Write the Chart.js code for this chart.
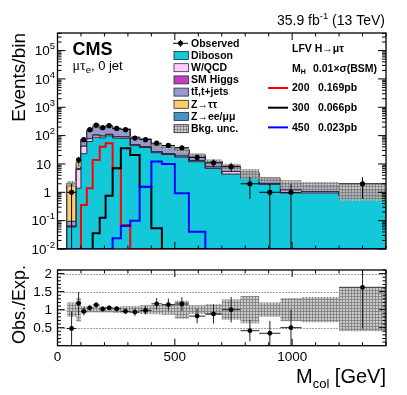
<!DOCTYPE html>
<html>
<head>
<meta charset="utf-8">
<title>LFV H to mu tau_e, 0 jet</title>
<script src="https://cdn.jsdelivr.net/npm/chart.js@4.4.1/dist/chart.umd.min.js"></script>
<style>
  body { margin: 0; background: #fff; }
  .panel { position: absolute; left: 0; }
</style>
</head>
<body>
<canvas id="mainChart" class="panel" width="407" height="260" style="top:0"></canvas>
<canvas id="ratioChart" class="panel" width="407" height="135" style="top:260px"></canvas>
<script>
// Collinear mass bins (GeV) and event counts per bin
const binEdges = [40, 80, 100, 125, 150, 180, 205, 235, 270, 310, 350, 400, 445, 500, 560, 630, 700, 780, 860, 950, 1040, 1200, 1400];
const observed = [1, 14, 72, 162, 235, 191, 224, 180, 162, 82, 72, 54, 45, 37, 17, 11, 8, 2, 1, 1, 0, 2];
const diboson = [0.06, 1.4, 23, 62, 88, 83, 98, 82, 81, 44, 38, 25, 21.5, 17.5, 12, 7, 4.4, 3.1, 1.9, 0.95, 0.95, 0.75];
const wqcd = [0, 5.0, 19, 16, 16, 13, 12.5, 9.5, 8.5, 4, 3, 2, 1.6, 1.5, 1.2, 0.8, 1.0, 0.3, 0.15, 0.25, 0.1, 0.02];
const smHiggs = [0.005, 0.1, 0.5, 1, 1.5, 1.5, 1.5, 1.2, 1, 0.6, 0.4, 0.3, 0.2, 0.2, 0.1, 0.05, 0.03, 0.02, 0.01, 0.01, 0.01, 0.005];
const ttbar = [0.03, 0.5, 23, 64, 91, 81, 95, 78, 75.5, 37, 30.5, 18, 15, 12, 7, 4.4, 2.5, 1.3, 0.8, 0.75, 0.62, 0.45];
const ztautau = [1.6, 4.0, 6, 6, 6, 4, 3, 2.8, 2, 1.2, 0.8, 0.6, 0.6, 0.4, 0.2, 0.1, 0.04, 0.04, 0.02, 0.02, 0.01, 0.005];
const zll = [0.4, 0.9, 4.3, 5, 5.5, 4.5, 3, 2.5, 2, 1.2, 0.8, 0.6, 0.6, 0.4, 0.2, 0.15, 0.03, 0.04, 0.02, 0.02, 0.01, 0.005];
const bkgUnc = [0.2, 0.33, 0.1, 0.08, 0.08, 0.08, 0.08, 0.09, 0.1, 0.1, 0.12, 0.13, 0.14, 0.25, 0.12, 0.15, 0.28, 0.38, 0.2, 0.32, 0.35, 0.6];

// signal hypotheses M_H = 200, 300, 450 GeV
const sig200 = [0, 0, 0.36, 1.39, 13.8, 40.8, 53.8, 7.1, 0.07, 0, 0, 0, 0, 0, 0, 0, 0, 0, 0, 0, 0, 0];
const sig300 = [0, 0, 0, 0, 0.036, 0.127, 0.76, 7.1, 35.9, 20.8, 1.58, 0.054, 0, 0, 0, 0, 0, 0, 0, 0, 0, 0];
const sig450 = [0, 0, 0, 0, 0, 0, 0, 0.024, 0.065, 0.1, 1.54, 12.1, 10, 0.92, 0.041, 0, 0, 0, 0, 0, 0, 0];
const signalMasses = ["200", "300", "450"];
const signalXsec = ["0.169pb", "0.066pb", "0.023pb"];

// axis ticks
const xTickValues = [0, 500, 1000];
const yTickValues = [0.01, 0.1, 1, 10, 100, 1000, 10000, 100000];
const yTickLabels = ["10^-2", "10^-1", "1", "10", "10^2", "10^3", "10^4", "10^5"];
const ratioTickValues = [0.5, 1, 1.5, 2];
const ratioTickLabels = ["0.5", "1", "1.5", "2"];

const legendLabels = ["Observed", "Diboson", "W/QCD", "SM Higgs", "tt\u0304,t+jets", "Z\u2192\u03c4\u03c4", "Z\u2192ee/\u03bc\u03bc", "Bkg. unc."];
const legendColors = [null, "#13c8d8", "#ffccff", "#c040c0", "#9999cc", "#ffcc66", "#4596c8", "hatch"];
const signalColors = ["#ff0000", "#000000", "#0000ff"];

const SANS = '"Liberation Sans", Arial, Helvetica, sans-serif';
const SERIF = '"Liberation Serif", "DejaVu Serif", serif';
const yMin = 0.01;
const yMax = Math.pow(10, 5.62);
const xMax = 1400;

// cumulative stack, bottom to top
const layers = [diboson, wqcd, smHiggs, ttbar, ztautau, zll];
const cum = [];
let running = diboson.map(() => 0);
layers.forEach((l) => {
  running = running.map((s, i) => s + l[i]);
  cum.push(running);
});
const total = cum[cum.length - 1];

function histPoints(vals, floor, x0) {
  const pts = [];
  if (x0 !== undefined) pts.push({ x: x0, y: floor });
  pts.push({ x: binEdges[0], y: floor });
  vals.forEach((v, i) => {
    const y = Math.max(v, yMin);
    pts.push({ x: binEdges[i], y: y });
    pts.push({ x: binEdges[i + 1], y: y });
  });
  pts.push({ x: binEdges[binEdges.length - 1], y: floor });
  return pts;
}

function centers() {
  return binEdges.slice(0, -1).map((e, i) => (e + binEdges[i + 1]) / 2);
}

function makeHatch(canvas) {
  const c = document.createElement("canvas");
  c.width = 3;
  c.height = 3;
  const g = c.getContext("2d");
  g.fillStyle = "rgba(188,188,188,0.78)";
  g.fillRect(0, 0, 3, 3);
  g.fillStyle = "rgba(125,125,125,0.8)";
  g.fillRect(0, 0, 1, 3);
  g.fillRect(0, 0, 3, 1);
  return canvas.getContext("2d").createPattern(c, "repeat");
}

function font(size, bold) {
  return (bold ? "bold " : "") + size + "px " + SANS;
}

// draw runs of text [{t, size, bold, dy, fam}] in a row
function textRuns(ctx, parts, x, y, align) {
  let w = 0;
  parts.forEach((p) => {
    ctx.font = (p.bold ? "bold " : "") + p.size + "px " + (p.fam || SANS);
    p.w = ctx.measureText(p.t).width;
    w += p.w;
  });
  let cx = align === "right" ? x - w : align === "center" ? x - w / 2 : x;
  ctx.textAlign = "left";
  parts.forEach((p) => {
    ctx.font = (p.bold ? "bold " : "") + p.size + "px " + (p.fam || SANS);
    ctx.fillText(p.t, cx, y + (p.dy || 0));
    cx += p.w;
  });
}

function line(ctx, x1, y1, x2, y2) {
  ctx.beginPath();
  ctx.moveTo(x1, y1);
  ctx.lineTo(x2, y2);
  ctx.stroke();
}

function xTicks(ctx, xs, area) {
  for (let v = 0; v <= xMax; v += 100) {
    const px = xs.getPixelForValue(v);
    const len = v % 500 === 0 ? 7 : 3.5;
    line(ctx, px, area.bottom, px, area.bottom - len);
    line(ctx, px, area.top, px, area.top + len);
  }
}

function verticalTitle(ctx, s, x, yTop, size) {
  ctx.save();
  ctx.translate(x, yTop);
  ctx.rotate(-Math.PI / 2);
  ctx.font = font(size);
  ctx.textAlign = "right";
  ctx.textBaseline = "alphabetic";
  ctx.fillStyle = "#000";
  ctx.fillText(s, 0, 0);
  ctx.restore();
}

// ---------------- main panel ----------------
const mainCanvas = document.getElementById("mainChart");
const hatchMain = makeHatch(mainCanvas);

// biggest cumulative drawn first (highest order), smaller ones on top
const stackNames = ["Diboson", "W/QCD", "SM Higgs", "ttbar", "Ztautau", "Zll"];
const stackDatasets = [];
for (let k = layers.length - 1; k >= 0; k--) {
  stackDatasets.push({
    label: stackNames[k],
    data: histPoints(cum[k], yMin),
    backgroundColor: legendColors[k + 1],
    borderColor: "#2a2a3a",
    borderWidth: 1,
    fill: "start",
    pointRadius: 0,
    order: 10 + k,
  });
}

const bandLow = total.map((t, i) => t * (1 - bkgUnc[i]));
const bandHigh = total.map((t, i) => t * (1 + bkgUnc[i]));
const obsPoints = centers()
  .map((c, i) => ({ x: c, y: observed[i] }))
  .filter((p) => p.y > 0);

const mainDatasets = stackDatasets.concat([
  { label: "bandLow", data: histPoints(bandLow, yMin), borderWidth: 0, pointRadius: 0, fill: false, order: 5 },
  { label: "Bkg. unc.", data: histPoints(bandHigh, yMin), borderWidth: 0, pointRadius: 0, fill: "-1", backgroundColor: hatchMain, order: 4 },
  { label: "200", data: histPoints(sig200, yMin, 0), borderColor: signalColors[0], borderWidth: 2, pointRadius: 0, fill: false, order: 3 },
  { label: "300", data: histPoints(sig300, yMin, 0), borderColor: signalColors[1], borderWidth: 2, pointRadius: 0, fill: false, order: 2 },
  { label: "450", data: histPoints(sig450, yMin, 0), borderColor: signalColors[2], borderWidth: 2, pointRadius: 0, fill: false, order: 1 },
  { label: "Observed", data: obsPoints, showLine: false, pointRadius: 2.6, pointBackgroundColor: "#000", pointBorderWidth: 0, order: 0 },
]);
const OBS_INDEX = mainDatasets.length - 1;

const mainDecor = {
  id: "mainDecor",
  beforeDatasetDraw(chart, args) {
    if (args.index !== OBS_INDEX) return;
    const ctx = chart.ctx, xs = chart.scales.x, ys = chart.scales.y;
    ctx.save();
    ctx.strokeStyle = "#000";
    ctx.lineWidth = 1;
    observed.forEach((n, i) => {
      if (n <= 0) return;
      const c = (binEdges[i] + binEdges[i + 1]) / 2;
      const e = Math.sqrt(n);
      const px = xs.getPixelForValue(c);
      const py = ys.getPixelForValue(n);
      line(ctx, px, ys.getPixelForValue(Math.max(n - e, yMin)), px, ys.getPixelForValue(n + e));
      line(ctx, xs.getPixelForValue(binEdges[i]), py, xs.getPixelForValue(binEdges[i + 1]), py);
    });
    ctx.restore();
  },
  afterDraw(chart) {
    const ctx = chart.ctx, area = chart.chartArea, xs = chart.scales.x, ys = chart.scales.y;
    ctx.save();
    ctx.strokeStyle = "#000";
    ctx.fillStyle = "#000";
    ctx.lineWidth = 1;
    xTicks(ctx, xs, area);
    for (let e = -2; e <= 5; e++) {
      for (let m = 1; m <= 9; m++) {
        const v = m * Math.pow(10, e);
        if (v > yMax) break;
        const py = ys.getPixelForValue(v);
        const len = m === 1 ? 8 : 4;
        line(ctx, area.left, py, area.left + len, py);
        line(ctx, area.right, py, area.right - len, py);
      }
    }
    ctx.lineWidth = 1.3;
    ctx.strokeRect(area.left, area.top, area.right - area.left, area.bottom - area.top);

    // y tick labels
    ctx.textBaseline = "middle";
    yTickValues.forEach((v, i) => {
      const py = ys.getPixelForValue(v) + 1;
      const parts = yTickLabels[i].split("^");
      if (parts.length === 1) {
        textRuns(ctx, [{ t: parts[0], size: 13.5 }], 51, py, "right");
      } else {
        textRuns(ctx, [{ t: parts[0], size: 13.5 }, { t: parts[1], size: 9.5, dy: -5 }], 55, py, "right");
      }
    });

    ctx.textBaseline = "alphabetic";
    verticalTitle(ctx, "Events/bin", 25, 33, 19);
    textRuns(ctx, [{ t: "35.9 fb", size: 14 }, { t: "-1", size: 9.5, dy: -6 }, { t: " (13 TeV)", size: 14 }], 385, 25, "right");
    textRuns(ctx, [{ t: "CMS", size: 18, bold: true }], 72.5, 55, "left");
    textRuns(ctx, [{ t: "\u03bc\u03c4", size: 14, fam: SERIF }, { t: "e", size: 9.5, dy: 3 }, { t: ", 0 jet", size: 13 }], 72.5, 70, "left");

    // legend, left column
    ctx.textBaseline = "middle";
    legendLabels.forEach((lab, i) => {
      const yy = 43.3 + 12.2 * i;
      if (i === 0) {
        ctx.lineWidth = 1;
        line(ctx, 173, yy, 188, yy);
        line(ctx, 180.5, yy - 3.5, 180.5, yy + 3.5);
        ctx.beginPath();
        ctx.arc(180.5, yy, 2.5, 0, Math.PI * 2);
        ctx.fill();
      } else {
        ctx.fillStyle = legendColors[i] === "hatch" ? hatchMain : legendColors[i];
        ctx.fillRect(174, yy - 4, 14.5, 8);
        ctx.strokeStyle = "#2a2a3a";
        ctx.lineWidth = 0.8;
        ctx.strokeRect(174, yy - 4, 14.5, 8);
        ctx.fillStyle = "#000";
      }
      textRuns(ctx, [{ t: lab, size: 10.5, bold: true }], 191, yy + 0.5, "left");
    });

    // legend, right column (signals)
    textRuns(ctx, [{ t: "LFV H\u2192\u03bc\u03c4", size: 10.5, bold: true }], 292, 49.5, "left");
    textRuns(ctx, [{ t: "M", size: 10.5, bold: true }, { t: "H", size: 7, bold: true, dy: 3 }], 292, 69.5, "left");
    textRuns(ctx, [{ t: "0.01\u00d7\u03c3(BSM)", size: 10.5, bold: true }], 313, 69.5, "left");
    signalMasses.forEach((m, i) => {
      const yy = 88 + 19.7 * i;
      ctx.strokeStyle = signalColors[i];
      ctx.lineWidth = 2;
      line(ctx, 268, yy, 288, yy);
      ctx.fillStyle = "#000";
      textRuns(ctx, [{ t: m, size: 10.5, bold: true }], 292, yy + 0.5, "left");
      textRuns(ctx, [{ t: signalXsec[i], size: 10.5, bold: true }], 318, yy + 0.5, "left");
    });
    ctx.restore();
  },
};

new Chart(mainCanvas, {
  type: "line",
  data: { datasets: mainDatasets },
  options: {
    responsive: false,
    animation: false,
    layout: { padding: { left: 57.5, right: 21, top: 33, bottom: 11 } },
    scales: {
      x: { type: "linear", min: 0, max: xMax, display: false },
      y: { type: "logarithmic", min: yMin, max: yMax, display: false },
    },
    plugins: { legend: { display: false }, tooltip: { enabled: false } },
  },
  plugins: [mainDecor],
});

// ---------------- ratio panel ----------------
const ratioCanvas = document.getElementById("ratioChart");
const hatchRatio = makeHatch(ratioCanvas);
const ratio = observed.map((n, i) => n / total[i]);
const ratioErr = observed.map((n, i) => Math.sqrt(n) / total[i]);
const ratioPoints = centers()
  .map((c, i) => ({ x: c, y: ratio[i] }))
  .filter((p, i) => observed[i] > 0);

function bandPoints(vals) {
  const pts = [{ x: binEdges[0], y: 1 }];
  vals.forEach((v, i) => {
    pts.push({ x: binEdges[i], y: v });
    pts.push({ x: binEdges[i + 1], y: v });
  });
  pts.push({ x: binEdges[binEdges.length - 1], y: 1 });
  return pts;
}

const ratioDecor = {
  id: "ratioDecor",
  beforeDatasetsDraw(chart) {
    const ctx = chart.ctx, area = chart.chartArea, ys = chart.scales.y;
    ctx.save();
    ctx.strokeStyle = "#444";
    ctx.lineWidth = 1;
    ctx.setLineDash([1, 2]);
    ratioTickValues.forEach((v) => {
      const py = Math.round(ys.getPixelForValue(v)) + 0.5;
      line(ctx, area.left, py, area.right, py);
    });
    ctx.restore();
  },
  beforeDatasetDraw(chart, args) {
    if (args.index !== 2) return;
    const ctx = chart.ctx, xs = chart.scales.x, ys = chart.scales.y, area = chart.chartArea;
    ctx.save();
    ctx.beginPath();
    ctx.rect(area.left, area.top, area.right - area.left, area.bottom - area.top);
    ctx.clip();
    ctx.strokeStyle = "#222";
    ctx.lineWidth = 1;
    observed.forEach((n, i) => {
      if (n <= 0) return;
      const c = (binEdges[i] + binEdges[i + 1]) / 2;
      const px = xs.getPixelForValue(c);
      const py = ys.getPixelForValue(ratio[i]);
      line(ctx, px, ys.getPixelForValue(ratio[i] - ratioErr[i]), px, ys.getPixelForValue(ratio[i] + ratioErr[i]));
      line(ctx, xs.getPixelForValue(binEdges[i]), py, xs.getPixelForValue(binEdges[i + 1]), py);
    });
    ctx.restore();
  },
  afterDraw(chart) {
    const ctx = chart.ctx, area = chart.chartArea, xs = chart.scales.x, ys = chart.scales.y;
    ctx.save();
    ctx.strokeStyle = "#000";
    ctx.fillStyle = "#000";
    ctx.lineWidth = 1;
    xTicks(ctx, xs, area);
    for (let k = 1; k <= 21; k++) {
      const v = k / 10;
      const py = ys.getPixelForValue(v);
      const len = k % 5 === 0 ? 7 : 3.5;
      line(ctx, area.left, py, area.left + len, py);
      line(ctx, area.right, py, area.right - len, py);
    }
    ctx.lineWidth = 1.3;
    ctx.strokeRect(area.left, area.top, area.right - area.left, area.bottom - area.top);

    ctx.textBaseline = "middle";
    ratioTickValues.forEach((v, i) => {
      textRuns(ctx, [{ t: ratioTickLabels[i], size: 13.5 }], 52, ys.getPixelForValue(v) + 1, "right");
    });
    ctx.textBaseline = "alphabetic";
    xTickValues.forEach((v) => {
      textRuns(ctx, [{ t: String(v), size: 13.5 }], xs.getPixelForValue(v), 101, "center");
    });
    verticalTitle(ctx, "Obs./Exp.", 25, 5, 18);
    textRuns(ctx, [{ t: "M", size: 20 }, { t: "col", size: 13, dy: 5 }, { t: " [GeV]", size: 20 }], 386, 123, "right");
    ctx.restore();
  },
};

new Chart(ratioCanvas, {
  type: "line",
  data: {
    datasets: [
      { label: "uncLow", data: bandPoints(bkgUnc.map((u) => 1 - u)), borderWidth: 0, pointRadius: 0, fill: false, order: 3 },
      { label: "uncHigh", data: bandPoints(bkgUnc.map((u) => 1 + u)), borderWidth: 0, pointRadius: 0, fill: "-1", backgroundColor: hatchRatio, order: 2 },
      { label: "ratio", data: ratioPoints, showLine: false, pointRadius: 2.4, pointBackgroundColor: "#000", pointBorderWidth: 0, order: 0 },
    ],
  },
  options: {
    responsive: false,
    animation: false,
    layout: { padding: { left: 57.5, right: 21, top: 10, bottom: 49.3 } },
    scales: {
      x: { type: "linear", min: 0, max: xMax, display: false },
      y: { type: "linear", min: 0, max: 2.1, display: false },
    },
    plugins: { legend: { display: false }, tooltip: { enabled: false } },
  },
  plugins: [ratioDecor],
});
</script>
</body>
</html>
